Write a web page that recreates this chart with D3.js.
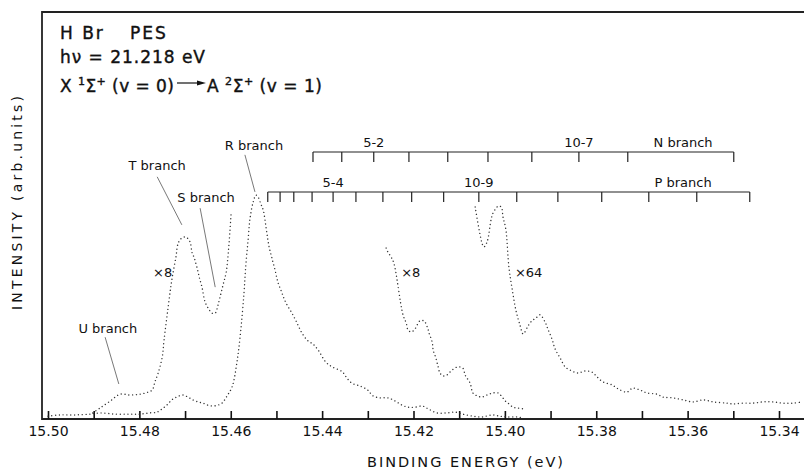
<!DOCTYPE html>
<html>
<head>
<meta charset="utf-8">
<script src="https://cdn.jsdelivr.net/npm/d3@7/dist/d3.min.js"></script>
<style>
body { margin: 0; background: #fff; }
svg { display: block; }
text { font-family: "DejaVu Sans", sans-serif; fill: #111; }
</style>
</head>
<body>
<svg id="chart" width="804" height="470"></svg>
<script>
// ---- data (binding energy in eV, intensity in arb. units) ----
var mainE = [15.5000, 15.4974, 15.4941, 15.4908, 15.4886, 15.4853, 15.4821, 15.4799, 15.4777, 15.4761, 15.4750, 15.4740, 15.4729, 15.4718, 15.4705, 15.4694, 15.4683, 15.4672, 15.4661, 15.4650, 15.4639, 15.4628, 15.4619, 15.4608, 15.4597, 15.4586, 15.4578, 15.4571, 15.4567, 15.4562, 15.4558, 15.4551, 15.4545, 15.4540, 15.4534, 15.4529, 15.4521, 15.4516, 15.4510, 15.4503, 15.4497, 15.4488, 15.4479, 15.4466, 15.4455, 15.4444, 15.4431, 15.4420, 15.4409, 15.4392, 15.4378, 15.4356, 15.4346, 15.4335, 15.4317, 15.4300, 15.4289, 15.4273, 15.4256, 15.4240, 15.4225, 15.4212, 15.4197, 15.4181, 15.4168, 15.4149, 15.4127, 15.4109, 15.4092, 15.4070, 15.4050, 15.4028, 15.4011, 15.3995, 15.3973, 15.3960];
var mainI = [0.7, 1.0, 1.0, 1.2, 1.5, 1.2, 1.2, 1.2, 1.5, 1.7, 2.5, 3.4, 4.7, 5.4, 5.9, 5.4, 4.7, 4.2, 3.9, 3.4, 3.2, 3.4, 3.9, 5.7, 7.9, 14.3, 21.9, 31.0, 37.8, 44.0, 49.1, 53.3, 55.0, 54.5, 52.8, 51.4, 45.7, 42.3, 39.6, 36.6, 33.7, 31.0, 28.5, 26.0, 23.6, 21.1, 19.2, 18.4, 17.0, 14.0, 12.8, 11.6, 10.1, 8.8, 8.1, 7.1, 5.7, 5.2, 5.2, 4.4, 3.4, 2.9, 2.9, 3.2, 2.5, 1.5, 1.5, 1.7, 1.2, 0.7, 0.5, 1.0, 0.7, 0.5, 0.5, 0.2];

// x8 trace, U/T/S branch region
var x8aE = [15.4902, 15.4886, 15.4864, 15.4842, 15.4821, 15.4799, 15.4781, 15.4772, 15.4766, 15.4759, 15.4750, 15.4746, 15.4737, 15.4729, 15.4720, 15.4715, 15.4707, 15.4698, 15.4689, 15.4685, 15.4680, 15.4674, 15.4669, 15.4663, 15.4656, 15.4648, 15.4641, 15.4634, 15.4628, 15.4624, 15.4617, 15.4610, 15.4604, 15.4599];
var x8aI = [1.5, 2.7, 4.4, 6.1, 5.9, 6.1, 6.6, 7.1, 9.1, 11.3, 15.2, 19.4, 27.5, 34.2, 39.8, 43.2, 44.5, 44.7, 43.5, 41.0, 39.6, 37.3, 34.9, 32.4, 28.7, 27.0, 26.0, 26.0, 28.0, 29.7, 32.9, 36.1, 42.8, 50.9];

// x8 trace, P branch region
var x8bE = [15.4260, 15.4256, 15.4249, 15.4243, 15.4223, 15.4216, 15.4212, 15.4205, 15.4197, 15.4186, 15.4177, 15.4170, 15.4166, 15.4159, 15.4157, 15.4151, 15.4146, 15.4142, 15.4135, 15.4127, 15.4116, 15.4103, 15.4092, 15.4087, 15.4076, 15.4070, 15.4061, 15.4050, 15.4039, 15.4026, 15.4015, 15.4006, 15.3999, 15.3993, 15.3982, 15.3971, 15.3960];
var x8bI = [42.0, 41.0, 39.8, 38.3, 25.6, 23.6, 21.9, 21.4, 22.1, 24.1, 24.1, 22.6, 21.1, 18.9, 17.0, 15.0, 12.8, 11.3, 10.6, 10.8, 12.0, 12.8, 12.5, 10.8, 8.8, 6.4, 5.7, 5.4, 5.9, 6.4, 6.4, 5.4, 4.4, 3.9, 2.9, 2.7, 2.5];

// x64 trace
var x64E = [15.4065, 15.4050, 15.4046, 15.4039, 15.4030, 15.4026, 15.4019, 15.4015, 15.4008, 15.4004, 15.3998, 15.3991, 15.3984, 15.3976, 15.3967, 15.3960, 15.3949, 15.3941, 15.3932, 15.3923, 15.3912, 15.3906, 15.3897, 15.3890, 15.3879, 15.3868, 15.3857, 15.3840, 15.3825, 15.3809, 15.3798, 15.3785, 15.3766, 15.3752, 15.3733, 15.3720, 15.3704, 15.3689, 15.3667, 15.3654, 15.3632, 15.3610, 15.3588, 15.3566, 15.3544, 15.3514, 15.3501, 15.3479, 15.3457, 15.3435, 15.3413, 15.3391, 15.3369, 15.3350];
var x64I = [52.1, 43.2, 42.3, 43.5, 49.1, 50.6, 51.8, 52.3, 52.1, 49.6, 46.7, 37.1, 31.9, 26.8, 23.1, 20.9, 22.9, 24.1, 24.8, 25.6, 23.8, 22.1, 19.7, 17.2, 15.0, 12.8, 12.0, 11.3, 11.8, 11.5, 10.3, 9.1, 8.4, 7.4, 6.6, 7.6, 7.1, 6.4, 6.1, 5.4, 5.2, 4.7, 4.2, 4.7, 4.2, 3.9, 3.7, 3.9, 3.9, 4.2, 4.2, 3.9, 3.9, 4.2];

// rotational line positions
var nBranch = [15.4420, 15.4357, 15.4287, 15.4210, 15.4125, 15.4037, 15.3941, 15.3838, 15.3731, 15.3499];
var pBranch = [15.4519, 15.4492, 15.4462, 15.4422, 15.4376, 15.4326, 15.4267, 15.4204, 15.4134, 15.4057, 15.3974, 15.3884, 15.3788, 15.3685, 15.3580, 15.3464];
var nMarkIdx = [2, 7], nMarkTxt = ["5-2", "10-7"];
var pMarkIdx = [4, 9], pMarkTxt = ["5-4", "10-9"];

// x axis ticks
var tickVals = [15.50, 15.49, 15.48, 15.47, 15.46, 15.45, 15.44, 15.43, 15.42, 15.41, 15.40, 15.39, 15.38, 15.37, 15.36, 15.35, 15.34];
var tickLabels = ["15.50", "15.48", "15.46", "15.44", "15.42", "15.40", "15.38", "15.36", "15.34"];

// branch names with leader lines: label pos (E, I), leader from -> to
var branchNames = ["U branch", "T branch", "S branch", "R branch"];
var branchLabelE = [15.4869, 15.4761, 15.4654, 15.4549];
var branchLabelI = [21.1, 61.2, 53.3, 66.1];
var leaderE0 = [15.4875, 15.4761, 15.4667, 15.4569], leaderI0 = [20.1, 59.5, 51.8, 64.9];
var leaderE1 = [15.4845, 15.4707, 15.4634, 15.4547], leaderI1 = [8.6, 47.7, 32.4, 55.8];

var factorTxt = ["\u00d78", "\u00d78", "\u00d764"];
var factorE = [15.4770, 15.4227, 15.3978];
var factorI = [34.9, 34.9, 34.9];

// ---- drawing ----
var svg = d3.select("#chart");
var mLeft = 42, mRight = 804, mTop = 12, mBottom = 419;

var x = d3.scaleLinear().domain([15.50, 15.34]).range([48, 779]);
var y = d3.scaleLinear().domain([0, 100]).range([mBottom, mTop]);

svg.append("defs").append("clipPath").attr("id", "plotclip")
    .append("rect").attr("x", mLeft).attr("y", mTop).attr("width", mRight - mLeft).attr("height", mBottom - mTop);

// frame: top and left line, axis line
svg.append("path").attr("d", "M" + mRight + "," + mTop + "H" + mLeft + "V" + mBottom + "H" + mRight)
    .attr("fill", "none").attr("stroke", "#222").attr("stroke-width", 1.8);

// x axis
var xAxis = d3.axisBottom(x).tickValues(tickVals).tickSize(-8).tickPadding(7)
    .tickFormat(function(d) {
        var s = d.toFixed(2);
        return tickLabels.indexOf(s) >= 0 ? s : "";
    });
var gx = svg.append("g").attr("transform", "translate(0," + mBottom + ")").call(xAxis);
gx.select(".domain").remove();
gx.selectAll(".tick line").attr("stroke", "#111").attr("stroke-width", 1.6);
gx.selectAll(".tick text").style("font-size", "14px").style("font-family", "DejaVu Sans").attr("fill", "#111");

svg.append("text").attr("x", 367).attr("y", 467).attr("textLength", 196).attr("lengthAdjust", "spacing")
    .style("font-size", "14.5px").text("BINDING ENERGY  (eV)");

svg.append("text").attr("transform", "translate(22,310) rotate(-90)")
    .attr("textLength", 214).attr("lengthAdjust", "spacing")
    .style("font-size", "14px").text("INTENSITY  (arb.units)");

// titles
var tStyle = function(s) { return s.style("font-size", "17px").attr("stroke", "#111").attr("stroke-width", 0.4); };
tStyle(svg.append("text").attr("x", 60).attr("y", 39).style("letter-spacing", "2px").text("H Br"));
tStyle(svg.append("text").attr("x", 130).attr("y", 39).style("letter-spacing", "2px").text("PES"));
tStyle(svg.append("text").attr("x", 60).attr("y", 63).attr("textLength", 145).attr("lengthAdjust", "spacing").text("h\u03bd = 21.218 eV"));

function termText(x0, len, letter, mult, v) {
    var t = tStyle(svg.append("text").attr("x", x0).attr("y", 92));
    t.append("tspan").text(letter + " ");
    t.append("tspan").attr("dy", -7).style("font-size", "11px").text(mult);
    t.append("tspan").attr("dy", 7).text("\u03a3");
    t.append("tspan").attr("dy", -7).style("font-size", "11px").text("+");
    t.append("tspan").attr("dy", 7).text(" (v = " + v + ")");
    t.attr("textLength", len).attr("lengthAdjust", "spacing");
}
termText(60, 114, "X", "1", "0");
termText(207, 115, "A", "2", "1");
svg.append("line").attr("x1", 177).attr("y1", 83).attr("x2", 200).attr("y2", 83)
    .attr("stroke", "#111").attr("stroke-width", 1.2);
svg.append("path").attr("d", "M197,80.5L206,83L197,85.5Z").attr("fill", "#111");

// traces (dotted, like the point-by-point recording)
var line = d3.line().x(function(d) { return x(d[0]); }).y(function(d) { return y(d[1]); })
    .curve(d3.curveCatmullRom.alpha(0.5));
var traces = [[mainE, mainI], [x8aE, x8aI], [x8bE, x8bI], [x64E, x64I]];
var plot = svg.append("g").attr("clip-path", "url(#plotclip)");
traces.forEach(function(t) {
    var pts = d3.zip(t[0], t[1]);
    plot.append("path").attr("d", line(pts))
        .attr("fill", "none").attr("stroke", "#333").attr("stroke-width", 1.4)
        .attr("stroke-linecap", "round").attr("stroke-dasharray", "0.01 3.8");
});

// multiplier labels
factorTxt.forEach(function(t, i) {
    svg.append("text").attr("x", x(factorE[i])).attr("y", y(factorI[i]))
        .style("font-size", "13px").text(t);
});

// branch names and leaders
branchNames.forEach(function(t, i) {
    svg.append("text").attr("x", x(branchLabelE[i])).attr("y", y(branchLabelI[i]))
        .attr("text-anchor", "middle").style("font-size", "13px").text(t);
    svg.append("line").attr("x1", x(leaderE0[i])).attr("y1", y(leaderI0[i]))
        .attr("x2", x(leaderE1[i])).attr("y2", y(leaderI1[i]))
        .attr("stroke", "#555").attr("stroke-width", 0.8);
});

// rotational combs
function comb(pos, yBar, idx, txt, name) {
    var g = svg.append("g");
    g.append("line").attr("x1", x(pos[0])).attr("x2", x(pos[pos.length - 1]))
        .attr("y1", yBar).attr("y2", yBar).attr("stroke", "#222").attr("stroke-width", 1.2);
    g.selectAll("line.tk").data(pos).enter().append("line").attr("class", "tk")
        .attr("x1", function(d) { return x(d); }).attr("x2", function(d) { return x(d); })
        .attr("y1", yBar).attr("y2", yBar + 10).attr("stroke", "#222").attr("stroke-width", 1.2);
    idx.forEach(function(k, i) {
        g.append("text").attr("x", x(pos[k])).attr("y", yBar - 5)
            .attr("text-anchor", "middle").style("font-size", "13px").text(txt[i]);
    });
    g.append("text").attr("x", x(15.3610)).attr("y", yBar - 5)
        .attr("text-anchor", "middle").style("font-size", "13px").text(name);
}
comb(nBranch, 152, nMarkIdx, nMarkTxt, "N branch");
comb(pBranch, 192, pMarkIdx, pMarkTxt, "P branch");
</script>
</body>
</html>
